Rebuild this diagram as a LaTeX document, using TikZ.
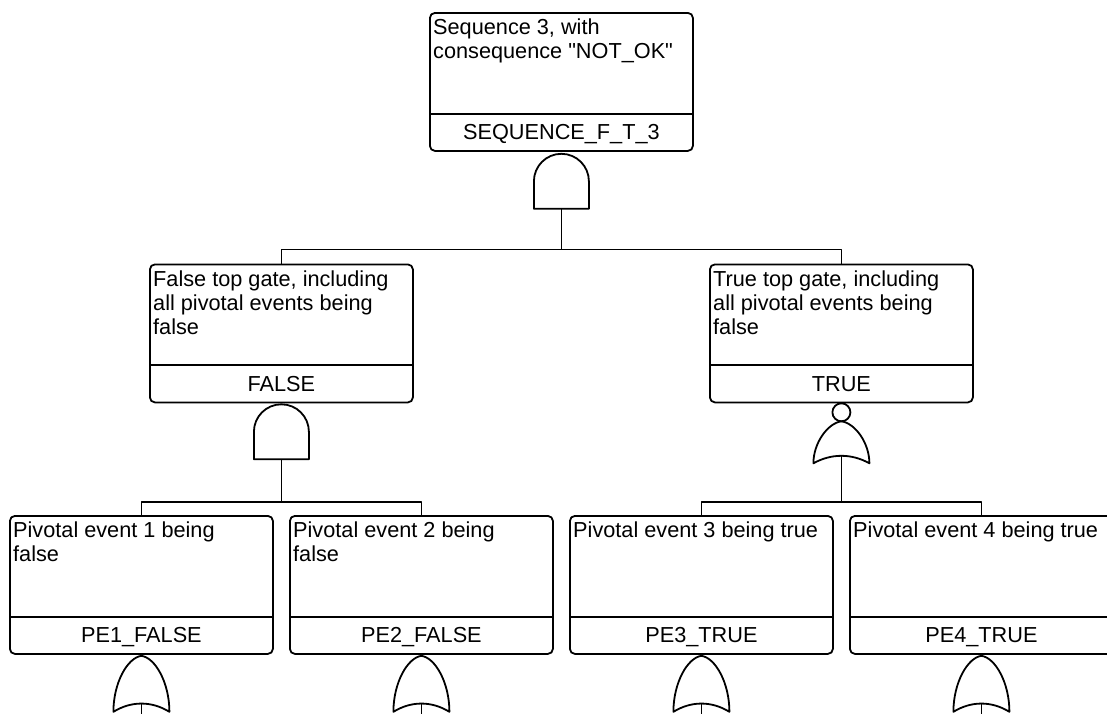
\documentclass[tikz,border=0pt]{standalone}
\usepackage{fontspec}
\setmainfont{Liberation Sans}[Ligatures=TeXOff]
\begin{document}
\begin{tikzpicture}[x=1pt,y=1pt,
  line join=round,
  wire/.style={line width=1.8pt},
  gate/.style={line width=1.8pt},
  evbox/.style={draw, line width=1.8pt, rounded corners=5pt, rectangle,
    minimum width=263pt, minimum height=138pt, inner sep=0pt, anchor=north west},
  desc/.style={anchor=north west, inner sep=0pt, align=left,
    font=\fontsize{21.7pt}{24pt}\selectfont},
  ident/.style={anchor=base, inner sep=0pt, font=\fontsize{21.7pt}{24pt}\selectfont},
  andgate/.pic={
    \draw[gate] (-27.5,-55) -- (-27.5,-27.5) arc[start angle=180,end angle=0,radius=27.5]
      -- (27.5,-55) -- cycle;
    \coordinate (-in) at (0,-55);
  },
  norgate/.pic={
    \draw[gate] (0,-9) circle[radius=9];
    \draw[gate] (-28,-60) .. controls (-28,-40) and (-14,-20) .. (0,-18)
      .. controls (14,-20) and (28,-40) .. (28,-60)
      .. controls (10,-50) and (-10,-50) .. cycle;
    \coordinate (-in) at (0,-52.5);
  },
  orgate/.pic={
    \draw[gate] (-28,-56) .. controls (-28,-27) and (-14,-2) .. (0,0)
      .. controls (14,-2) and (28,-27) .. (28,-56)
      .. controls (10,-45) and (-10,-45) .. cycle;
    \coordinate (-in) at (0,-47.75);
    \coordinate (-end) at (0,-80);
    \draw[wire] (-in) -- (-end);
  }
]
\useasboundingbox (0,0) rectangle (1107,-713);
\clip (0,0) rectangle (1107,-713);

% event boxes
\node[evbox] (seq) at (429,-12) {};
\node[evbox] (fls) at (149,-263.5) {};
\node[evbox] (tru) at (709,-263.5) {};
\node[evbox] (pe1) at (9,-515) {};
\node[evbox] (pe2) at (289,-515) {};
\node[evbox] (pe3) at (569,-515) {};
\node[evbox] (pe4) at (849,-515) {};

% dividers between description and identifier
\foreach \b in {seq,fls,tru,pe1,pe2,pe3,pe4}{
  \draw[line width=1.8pt] ([yshift=38pt]\b.south west) -- ([yshift=38pt]\b.south east);
}

% descriptions
\node[desc] (seqd) at ([xshift=4pt,yshift=-7pt]seq.north west) {Sequence 3, with\\consequence "NOT\_OK"};
\node[desc] (flsd) at ([xshift=4pt,yshift=-7pt]fls.north west) {False top gate, including\\all pivotal events being\\false};
\node[desc] (trud) at ([xshift=4pt,yshift=-7pt]tru.north west) {True top gate, including\\all pivotal events being\\false};
\node[desc] (pe1d) at ([xshift=4pt,yshift=-7pt]pe1.north west) {Pivotal event 1 being\\false};
\node[desc] (pe2d) at ([xshift=4pt,yshift=-7pt]pe2.north west) {Pivotal event 2 being\\false};
\node[desc] (pe3d) at ([xshift=4pt,yshift=-7pt]pe3.north west) {Pivotal event 3 being true};
\node[desc] (pe4d) at ([xshift=4pt,yshift=-7pt]pe4.north west) {Pivotal event 4 being true};

% identifiers
\node[ident] (seqi) at ([yshift=12pt]seq.south) {SEQUENCE\_F\_T\_3};
\node[ident] (flsi) at ([yshift=12pt]fls.south) {FALSE};
\node[ident] (trui) at ([yshift=12pt]tru.south) {TRUE};
\node[ident] (pe1i) at ([yshift=12pt]pe1.south) {PE1\_FALSE};
\node[ident] (pe2i) at ([yshift=12pt]pe2.south) {PE2\_FALSE};
\node[ident] (pe3i) at ([yshift=12pt]pe3.south) {PE3\_TRUE};
\node[ident] (pe4i) at ([yshift=12pt]pe4.south) {PE4\_TRUE};

% gates
\pic (g0) at ([yshift=-2pt]seq.south) {andgate};
\pic (g1) at ([yshift=-1pt]fls.south) {andgate};
\pic (g2) at (tru.south) {norgate};
\pic (o1) at ([yshift=-1pt]pe1.south) {orgate};
\pic (o2) at ([yshift=-1pt]pe2.south) {orgate};
\pic (o3) at ([yshift=-1pt]pe3.south) {orgate};
\pic (o4) at ([yshift=-1pt]pe4.south) {orgate};

% junctions
\coordinate (j0) at ([yshift=14pt]fls.north -| g0-in);
\coordinate (j1) at ([yshift=13pt]pe1.north -| g1-in);
\coordinate (j2) at ([yshift=13pt]pe3.north -| g2-in);

% connectors
\draw[wire] (g0-in) -- (j0);
\draw[wire] (fls.north) |- (j0) -| (tru.north);
\draw[wire] (g1-in) -- (j1);
\draw[wire] (pe1.north) |- (j1) -| (pe2.north);
\draw[wire] (g2-in) -- (j2);
\draw[wire] (pe3.north) |- (j2) -| (pe4.north);
\end{tikzpicture}
\end{document}
